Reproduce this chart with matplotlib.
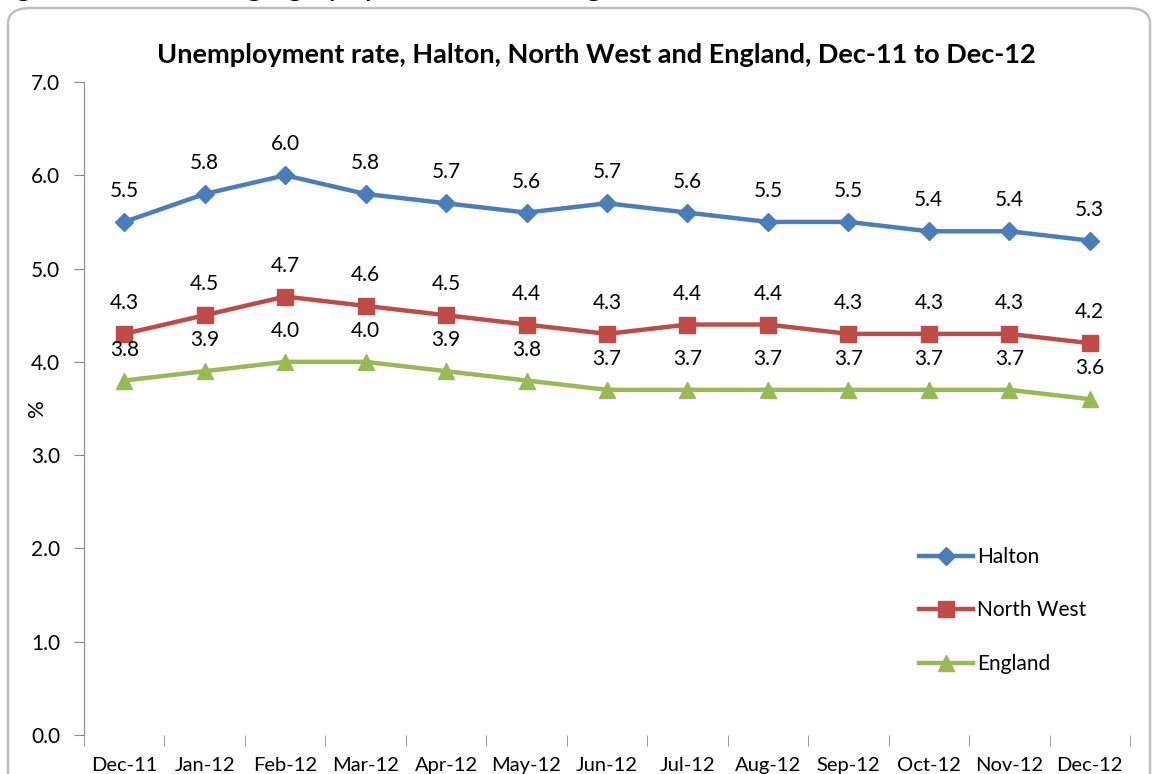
import numpy as np
import matplotlib.pyplot as plt
from matplotlib.patches import FancyBboxPatch

months = ['Dec-11', 'Jan-12', 'Feb-12', 'Mar-12', 'Apr-12', 'May-12', 'Jun-12',
          'Jul-12', 'Aug-12', 'Sep-12', 'Oct-12', 'Nov-12', 'Dec-12']
halton = [5.5, 5.8, 6.0, 5.8, 5.7, 5.6, 5.7, 5.6, 5.5, 5.5, 5.4, 5.4, 5.3]
north_west = [4.3, 4.5, 4.7, 4.6, 4.5, 4.4, 4.3, 4.4, 4.4, 4.3, 4.3, 4.3, 4.2]
england = [3.8, 3.9, 4.0, 4.0, 3.9, 3.8, 3.7, 3.7, 3.7, 3.7, 3.7, 3.7, 3.6]

plt.rcParams['font.family'] = ['Lato', 'DejaVu Sans']

W, H = 1152, 774
fig = plt.figure(figsize=(W / 100, H / 100), dpi=100)

# rounded chart border (cut off at right/bottom like the screenshot)
border = FancyBboxPatch((8 / W, -0.05), (1150 - 8) / W, (H - 8) / H + 0.05,
                        boxstyle='round,pad=0,rounding_size=0.02',
                        transform=fig.transFigure, facecolor='none',
                        edgecolor='#BEBEBE', linewidth=1.8, zorder=-1)
fig.patches.append(border)

# partially visible heading above the chart
fig.text(-0.01, 1 + 5 / H, 'tage of the working age population claiming Job Seekers Allowance',
         fontsize=23, va='baseline', ha='left', color='black')

ax = fig.add_axes([84 / W, 1 - 735 / H, (1130 - 84) / W, (735 - 82) / H])
ax.patch.set_alpha(0)
x = np.arange(len(months))

series = [
    ('Halton', halton, '#4A7EBB', 'D', 9),
    ('North West', north_west, '#BE4B48', 's', 11),
    ('England', england, '#98B954', '^', 12),
]
for name, vals, col, mk, ms in series:
    ax.plot(x, vals, color=col, lw=3.2, marker=mk, markersize=ms,
            markeredgecolor=col, label=name, zorder=3)
    for xi, v in zip(x, vals):
        ax.annotate(f'{v:.1f}', (xi, v), xytext=(0, 15), textcoords='offset points',
                    ha='center', va='bottom', fontsize=15)

ax.set_xlim(-0.5, len(months) - 0.5)
ax.set_ylim(0, 7)
ax.set_yticks(np.arange(0, 7.1, 1.0))
ax.set_yticklabels([f'{v:.1f}' for v in np.arange(0, 7.1, 1.0)], fontsize=15)
ax.set_xticks(x)
ax.set_xticklabels(months, fontsize=14.5)
ax.set_xticks(np.arange(-0.5, len(months)), minor=True)
ax.tick_params(axis='x', which='major', length=0, pad=16)
ax.tick_params(axis='x', which='minor', length=8, color='#888888', direction='out')
ax.tick_params(axis='y', length=7, color='#888888', pad=10)

for s in ['top', 'right', 'bottom']:
    ax.spines[s].set_visible(False)
ax.spines['left'].set_color('#888888')

ax.set_ylabel('%', fontsize=16)
ax.yaxis.set_label_coords(-0.035, 0.5)
ax.set_title('Unemployment rate, Halton, North West and England, Dec-11 to Dec-12',
             fontsize=19.5, fontweight='bold', pad=14, x=0.49)

ax.legend(loc='lower left', bbox_to_anchor=(0.78, 0.065), frameon=False,
          fontsize=15, labelspacing=1.6, handlelength=2.6, handletextpad=0.2)

fig.savefig('out.png', dpi=100)
